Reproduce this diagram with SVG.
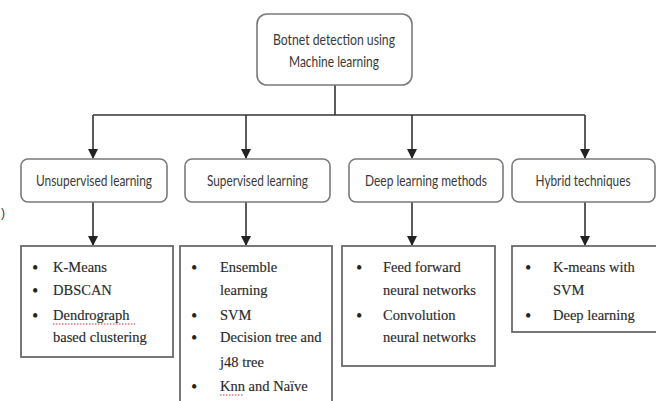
<svg xmlns="http://www.w3.org/2000/svg" width="656" height="401" viewBox="0 0 656 401">
<defs>
<marker id="ah" markerWidth="10" markerHeight="10" refX="9" refY="5" orient="auto" markerUnits="userSpaceOnUse">
<path d="M0,0 L10,5 L0,10 Z" fill="#222"/>
</marker>
<style>
.rb{fill:#fff;stroke:#7a7a7a;stroke-width:1.6}
.sb{fill:#fff;stroke:#6a6a6a;stroke-width:1.8}
.st{font-family:Lato,"Liberation Sans",sans-serif;font-size:15px;fill:#3a3a3a;text-anchor:middle}
.lt{font-family:"Liberation Serif","DejaVu Serif",serif;font-size:14.5px;fill:#2a2a2a;stroke:#2a2a2a;stroke-width:0.15}
.bl{font-family:"Liberation Serif",serif;font-size:18px;fill:#222}
.cn{fill:none;stroke:#333;stroke-width:1.6}
.sq{fill:none;stroke:#e03030;stroke-width:1;stroke-dasharray:1.5 1.5}
</style>
</defs>
<rect width="656" height="401" fill="#fff"/>
<g id="connectors">
<path class="cn" d="M335,85 V115"/>
<path class="cn" d="M93,115 H585"/>
<path class="cn" d="M93,115 V158" marker-end="url(#ah)"/>
<path class="cn" d="M246,115 V158" marker-end="url(#ah)"/>
<path class="cn" d="M412,115 V158" marker-end="url(#ah)"/>
<path class="cn" d="M585,115 V158" marker-end="url(#ah)"/>
<path class="cn" d="M93,202 V245" marker-end="url(#ah)"/>
<path class="cn" d="M246,202 V245" marker-end="url(#ah)"/>
<path class="cn" d="M412,202 V245" marker-end="url(#ah)"/>
<path class="cn" d="M585,202 V245" marker-end="url(#ah)"/>
</g>
<g id="root">
<rect class="rb" x="257" y="14" width="155" height="71" rx="10"/>
<text class="st" x="334" y="45" textLength="122" lengthAdjust="spacingAndGlyphs">Botnet detection using</text>
<text class="st" x="334" y="67" textLength="90" lengthAdjust="spacingAndGlyphs">Machine learning</text>
</g>
<g id="unsupervised">
<rect class="rb" x="21" y="159" width="146" height="43" rx="7"/>
<text class="st" x="94" y="186" textLength="116" lengthAdjust="spacingAndGlyphs">Unsupervised learning</text>
</g>
<g id="supervised">
<rect class="rb" x="185" y="159" width="145" height="43" rx="7"/>
<text class="st" x="257.5" y="186" textLength="101" lengthAdjust="spacingAndGlyphs">Supervised learning</text>
</g>
<g id="deep">
<rect class="rb" x="349" y="159" width="154" height="43" rx="7"/>
<text class="st" x="426" y="186" textLength="122" lengthAdjust="spacingAndGlyphs">Deep learning methods</text>
</g>
<g id="hybrid">
<rect class="rb" x="512" y="159" width="143" height="43" rx="7"/>
<text class="st" x="583" y="186" textLength="95" lengthAdjust="spacingAndGlyphs">Hybrid techniques</text>
</g>
<g id="unsupervised-list">
<rect class="sb" x="21" y="246" width="152" height="111"/>
<text class="bl" x="32" y="274">•</text>
<text class="bl" x="32" y="297">•</text>
<text class="bl" x="32" y="322">•</text>
<text class="lt" x="53" y="272">K-Means</text>
<text class="lt" x="53" y="295">DBSCAN</text>
<text class="lt" x="53" y="320">Dendrograph</text>
<path class="sq" d="M53,324 H135"/>
<text class="lt" x="53" y="342">based clustering</text>
</g>
<g id="supervised-list">
<rect class="sb" x="180" y="246" width="152" height="170"/>
<text class="bl" x="191" y="274">•</text>
<text class="bl" x="191" y="322">•</text>
<text class="bl" x="191" y="344">•</text>
<text class="bl" x="191" y="393">•</text>
<text class="lt" x="220" y="272">Ensemble</text>
<text class="lt" x="220" y="295">learning</text>
<text class="lt" x="220" y="320">SVM</text>
<text class="lt" x="220" y="342">Decision tree and</text>
<text class="lt" x="220" y="367">j48 tree</text>
<text class="lt" x="220" y="391">Knn and Naïve</text>
<path class="sq" d="M220,395 H243"/>
</g>
<g id="deep-list">
<rect class="sb" x="342" y="246" width="153" height="120"/>
<text class="bl" x="356" y="274">•</text>
<text class="bl" x="356" y="322">•</text>
<text class="lt" x="383" y="272">Feed forward</text>
<text class="lt" x="383" y="295">neural networks</text>
<text class="lt" x="383" y="320">Convolution</text>
<text class="lt" x="383" y="342">neural networks</text>
</g>
<g id="hybrid-list">
<rect class="sb" x="512" y="246" width="150" height="86"/>
<text class="bl" x="525" y="274">•</text>
<text class="bl" x="525" y="322">•</text>
<text class="lt" x="553" y="272">K-means with</text>
<text class="lt" x="553" y="295">SVM</text>
<text class="lt" x="553" y="320">Deep learning</text>
</g>
<text x="1" y="217" font-family="Liberation Sans,sans-serif" font-size="12" fill="#333">)</text>
</svg>
